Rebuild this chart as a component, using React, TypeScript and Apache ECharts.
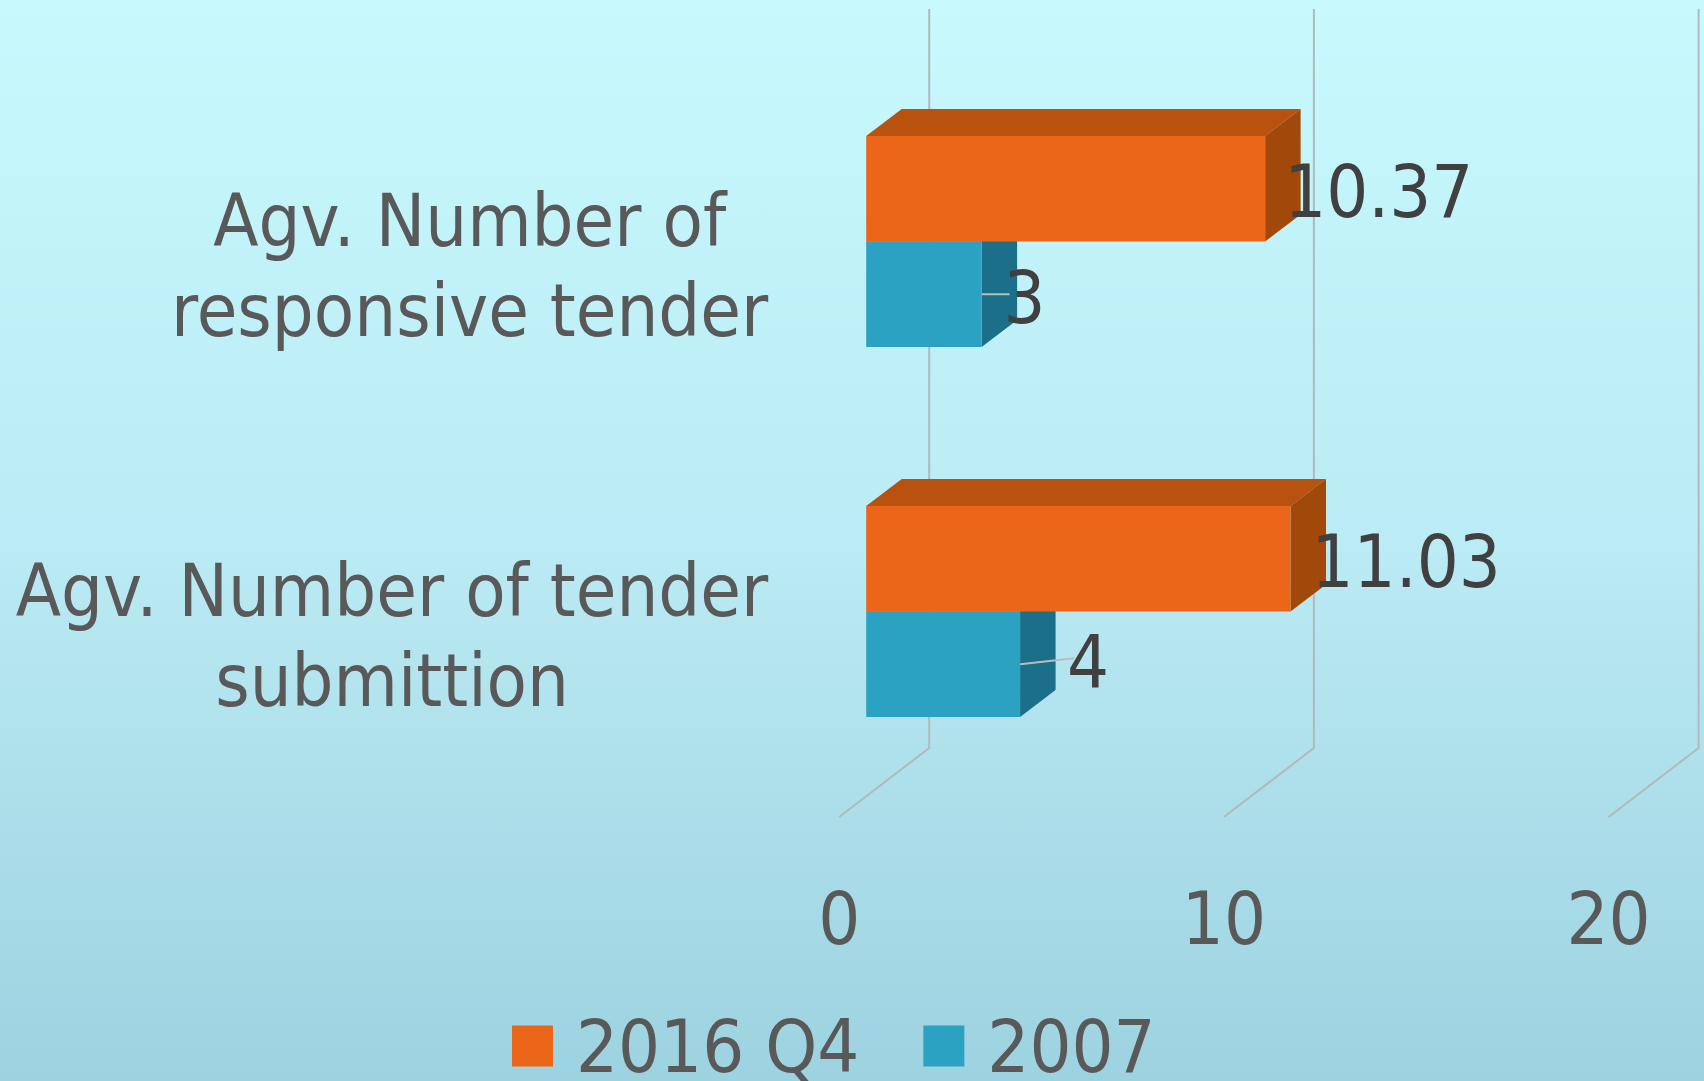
import React, { useEffect, useRef } from "react";
import * as echarts from "echarts";

const categories = ["Agv. Number of tender\nsubmittion", "Agv. Number of\nresponsive tender"];
const series2016 = [11.03, 10.37];
const series2007 = [4, 3];
const seriesNames = ["2016 Q4", "2007"];
const axisTicks = [0, 10, 20];

const FONT = "'DejaVu Sans Condensed', 'DejaVu Sans', sans-serif";
const FONT_SIZE = 73.5;
const ORANGE = "#EC6619";
const ORANGE_TOP = "#B9520F";
const ORANGE_SIDE = "#A1480B";
const BLUE = "#2BA2C2";
const BLUE_TOP = "#1C6F88";
const BLUE_SIDE = "#1C6F88";
const GRID_LINE = "#B2B9BC";
const DEPTH_X = 35.5;
const DEPTH_Y = 27;
const CATEGORY_GAP = 0.43;

// Label and leader-line displacement from each bar end
const orangeLabelOffset = [[5, 3], [3, 3]];
const blueLabelOffset = [[47, -2], [22, 3]];
const blueLeader = [[54, -6], [28, 0]];

function barDepth(topColor: string, sideColor: string, slot: number) {
  return (_params: any, api: any) => {
    const end = api.coord([api.value(0), api.value(1)]);
    const start = api.coord([0, api.value(1)]);
    const band = api.size([0, 1])[1];
    const h = (band * (1 - CATEGORY_GAP)) / 2;
    const top = end[1] + (slot === 0 ? -h : 0);
    const bottom = top + h;
    return {
      type: "group",
      children: [
        {
          type: "polygon",
          shape: { points: [[start[0], top], [start[0] + DEPTH_X, top - DEPTH_Y], [end[0] + DEPTH_X, top - DEPTH_Y], [end[0], top]] },
          style: { fill: topColor },
        },
        {
          type: "polygon",
          shape: { points: [[end[0], top], [end[0] + DEPTH_X, top - DEPTH_Y], [end[0] + DEPTH_X, bottom - DEPTH_Y], [end[0], bottom]] },
          style: { fill: sideColor },
        },
      ],
    };
  };
}

function wallLine(_params: any, api: any) {
  const p = api.coord([api.value(0), 0]);
  const back = p[0] + 63;
  const front = p[0] - 27;
  return {
    type: "polyline",
    shape: { points: [[back, 9], [back, 748], [front, 817]] },
    style: { stroke: GRID_LINE, lineWidth: 2, fill: "none" },
  };
}

function leaderLine(params: any, api: any) {
  const idx = params.dataIndex;
  const end = api.coord([api.value(0), api.value(1)]);
  const band = api.size([0, 1])[1];
  const h = (band * (1 - CATEGORY_GAP)) / 2;
  const mid = end[1] + h / 2;
  return {
    type: "line",
    shape: { x1: end[0], y1: mid, x2: end[0] + blueLeader[idx][0], y2: mid + blueLeader[idx][1] },
    style: { stroke: "#B8BEC0", lineWidth: 2 },
  };
}

export default function App() {
  const ref = useRef<HTMLDivElement>(null);
  useEffect(() => {
    document.body.style.margin = "0";
    document.body.style.overflow = "hidden";
    const chart = echarts.init(ref.current!, null, { renderer: "svg" });
    chart.setOption({
      animation: false,
      backgroundColor: new echarts.graphic.LinearGradient(0, 0, 0, 1, [
        { offset: 0, color: "#C7F9FD" },
        { offset: 0.5, color: "#BBEBF4" },
        { offset: 1, color: "#9DD2E0" },
      ]),
      grid: { left: 866.2, top: 56.5, width: 769.4, height: 740, containLabel: false },
      legend: {
        data: seriesNames,
        left: 512,
        top: 1009,
        padding: 0,
        icon: "rect",
        itemWidth: 41,
        itemHeight: 41,
        itemGap: 64,
        textStyle: { fontFamily: FONT, fontSize: FONT_SIZE, color: "#595959", padding: [0, 0, 0, 18], lineHeight: 70 },
      },
      xAxis: {
        type: "value",
        min: 0,
        max: 20,
        interval: 10,
        axisLine: { show: false },
        axisTick: { show: false },
        splitLine: { show: false },
        axisLabel: {
          margin: 85,
          fontFamily: FONT,
          fontSize: FONT_SIZE,
          color: "#595959",
          padding: [0, 54, 0, 0],
        },
      },
      yAxis: {
        type: "category",
        data: categories,
        axisLine: { show: false },
        axisTick: { show: false },
        axisLabel: {
          margin: 98,
          align: "right",
          padding: [48, 0, 0, 0],
          formatter: (v: string) => v.split("\n").map((l) => `{a|${l}}`).join("\n"),
          rich: { a: { fontFamily: FONT, fontSize: FONT_SIZE, color: "#595959", lineHeight: 90, align: "center" } },
        },
      },
      series: [
        {
          type: "custom",
          name: "wall",
          z: 1,
          silent: true,
          renderItem: wallLine,
          encode: { x: 0 },
          data: axisTicks.map((t) => [t]),
        },
        {
          type: "bar",
          name: seriesNames[0],
          z: 5,
          barGap: 0,
          barCategoryGap: "43%",
          itemStyle: { color: ORANGE },
          data: series2016.map((v, i) => ({
            value: v,
            label: { offset: orangeLabelOffset[i] },
          })),
          label: { show: true, position: "right", distance: 16, fontFamily: FONT, fontSize: FONT_SIZE, color: "#404040" },
        },
        {
          type: "bar",
          name: seriesNames[1],
          z: 3,
          barGap: 0,
          barCategoryGap: "43%",
          itemStyle: { color: BLUE },
          data: series2007.map((v, i) => ({
            value: v,
            label: { offset: blueLabelOffset[i] },
          })),
          label: { show: true, position: "right", distance: 0, fontFamily: FONT, fontSize: FONT_SIZE, color: "#404040" },
        },
        {
          type: "custom",
          name: "depth-2007",
          z: 2,
          silent: true,
          renderItem: barDepth(BLUE_TOP, BLUE_SIDE, 1),
          encode: { x: 0, y: 1 },
          data: series2007.map((v, i) => [v, i]),
        },
        {
          type: "custom",
          name: "leader-2007",
          z: 3,
          silent: true,
          renderItem: leaderLine,
          encode: { x: 0, y: 1 },
          data: series2007.map((v, i) => [v, i]),
        },
        {
          type: "custom",
          name: "depth-2016",
          z: 4,
          silent: true,
          renderItem: barDepth(ORANGE_TOP, ORANGE_SIDE, 0),
          encode: { x: 0, y: 1 },
          data: series2016.map((v, i) => [v, i]),
        },
      ],
    });
    return () => chart.dispose();
  }, []);
  return <div ref={ref} style={{ position: "absolute", left: 0, top: 0, width: 1704, height: 1081 }} />;
}
